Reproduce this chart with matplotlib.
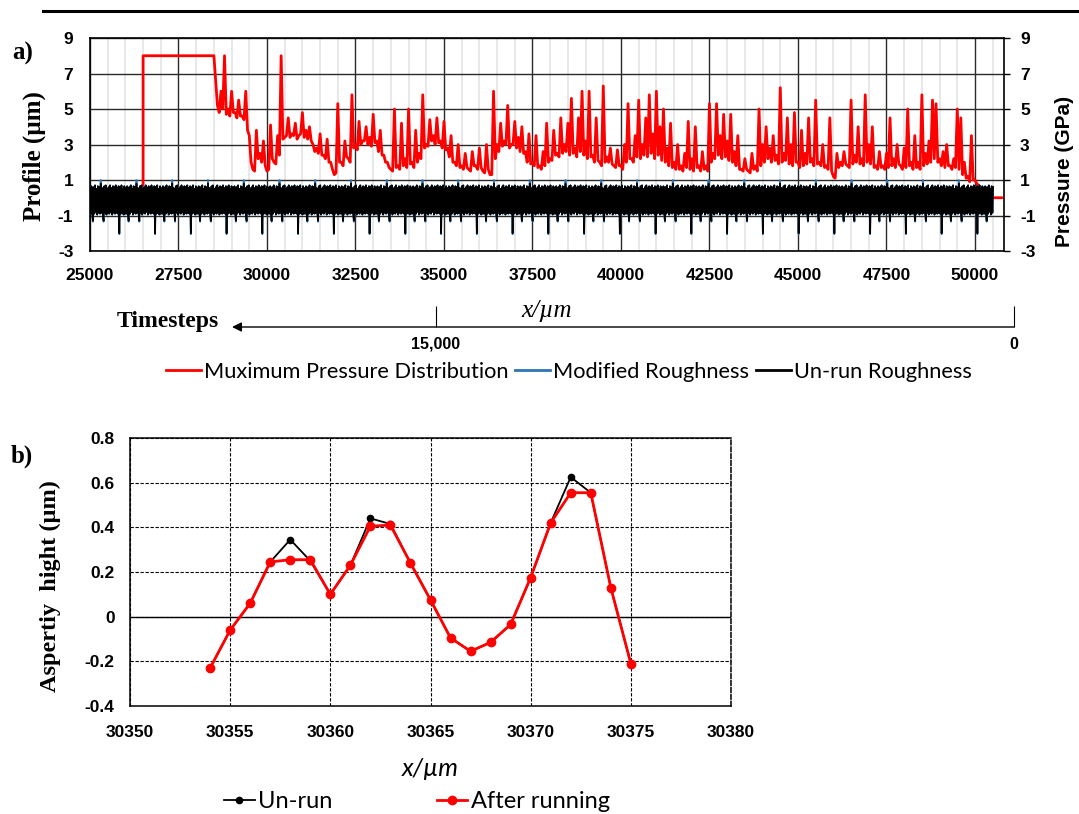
import numpy as np
import matplotlib
matplotlib.use('Agg')
import matplotlib.pyplot as plt
from matplotlib.lines import Line2D

plt.rcParams['font.family'] = ['Lato', 'DejaVu Sans']
plt.rcParams['axes.unicode_minus'] = False

# ---------------- panel a data ----------------
# pressure box at the start of the run (x in um, GPa)
pressure_start_x = [26500, 26500, 28500]
pressure_start_y = [0.7, 8.0, 8.0]
# maximum pressure: peaks read every 100 um from 28600 um,
# and the base level read half way between them
pressure_x0 = 28600
pressure_step = 100
pressure_peak = [
    5.2, 6.0, 8.0, 5.0, 6.0, 4.8, 5.5, 4.6, 6.0, 3.5,
    1.6, 3.8, 2.5, 3.2, 1.5, 4.1, 2.0, 3.5, 8.0, 3.4,
    4.5, 3.6, 4.2, 3.5, 4.8, 3.8, 4.0, 3.0, 2.8, 3.6,
    2.4, 3.3, 2.0, 1.3, 5.3, 2.0, 3.2, 2.2, 5.8, 3.0,
    4.3, 3.2, 4.0, 3.4, 4.7, 3.2, 3.8, 2.4, 2.0, 1.6,
    5.0, 1.8, 4.2, 2.2, 5.0, 2.0, 3.8, 2.5, 5.8, 3.0,
    4.4, 3.5, 4.5, 3.2, 4.3, 2.8, 3.5, 2.0, 3.0, 1.8,
    2.5, 1.6, 2.6, 1.8, 2.8, 1.5, 3.0, 1.3, 6.0, 3.0,
    4.2, 3.2, 5.2, 3.0, 4.3, 3.4, 4.0, 2.6, 3.6, 2.0,
    3.5, 1.8, 2.6, 4.2, 2.2, 3.8, 2.5, 4.5, 3.0, 4.2,
    5.6, 2.8, 4.5, 6.0, 3.2, 6.0, 2.4, 4.5, 2.0, 6.3,
    2.3, 2.8, 1.8, 2.7, 1.8, 3.0, 5.3, 2.2, 3.5, 5.5,
    3.0, 4.5, 5.8, 3.6, 6.0, 4.0, 5.0, 2.8, 4.2, 2.0,
    3.0, 1.8, 2.5, 4.3, 2.2, 4.0, 1.8, 2.6, 1.8, 5.3,
    2.5, 5.3, 3.5, 4.7, 3.2, 4.7, 2.6, 3.5, 1.6, 2.2,
    1.5, 2.5, 1.8, 5.0, 3.0, 4.0, 2.8, 3.5, 2.4, 6.2,
    2.5, 4.5, 3.0, 4.8, 2.0, 3.8, 2.5, 4.5, 2.2, 5.5,
    2.0, 3.0, 1.8, 4.5, 1.2, 2.5, 2.0, 2.6, 1.8, 5.5,
    2.4, 4.0, 2.2, 5.8, 3.0, 4.0, 1.8, 2.6, 1.8, 2.5,
    4.5, 2.2, 3.0, 1.8, 2.8, 5.0, 2.0, 3.5, 2.0, 5.8,
    2.5, 3.2, 5.5, 5.3, 2.2, 2.6, 3.0, 1.8, 2.2, 5.0,
    4.5, 2.0, 1.2, 3.5, 1.0, 0.7, 0.5, 0.0, 0.0, 0.0,
    0.0, 0.0,
]
pressure_base = [
    4.8, 5.0, 4.7, 4.6, 4.8, 4.5, 4.6, 4.4, 3.8, 2.0,
    1.5, 2.2, 2.0, 1.8, 1.6, 2.2, 1.9, 2.4, 3.3, 3.5,
    3.4, 3.5, 3.3, 3.6, 3.4, 3.3, 3.2, 2.6, 2.5, 2.4,
    2.2, 2.0, 1.6, 1.4, 2.0, 1.8, 2.3, 2.0, 2.8, 2.7,
    3.0, 3.2, 3.0, 2.9, 3.1, 2.6, 2.4, 2.0, 1.7, 1.5,
    1.7, 1.6, 1.8, 1.7, 1.9, 1.7, 2.0, 2.2, 2.8, 2.9,
    3.2, 3.0, 3.1, 2.8, 2.7, 2.3, 2.0, 1.8, 1.7, 1.6,
    1.7, 1.5, 1.8, 1.6, 1.7, 1.4, 1.6, 1.3, 2.2, 2.6,
    2.9, 3.0, 2.8, 3.0, 2.8, 2.6, 2.5, 2.0, 1.9, 1.8,
    1.7, 1.6, 1.8, 2.0, 2.1, 2.4, 2.3, 2.5, 2.6, 2.4,
    2.5, 2.3, 2.6, 2.4, 2.2, 2.3, 2.0, 2.1, 1.8, 2.0,
    2.0, 1.9, 1.7, 1.8, 1.6, 2.0, 2.2, 2.0, 2.3, 2.2,
    2.4, 2.3, 2.5, 2.2, 2.4, 2.1, 2.0, 1.8, 1.7, 1.6,
    1.6, 1.5, 1.7, 1.6, 1.5, 1.7, 1.5, 1.6, 1.5, 2.0,
    2.2, 2.4, 2.2, 2.3, 2.1, 2.0, 1.8, 1.6, 1.5, 1.6,
    1.4, 1.6, 1.5, 1.8, 2.0, 2.2, 2.0, 2.1, 1.9, 2.0,
    2.1, 1.9, 1.8, 2.0, 1.7, 1.8, 1.9, 2.0, 1.8, 1.9,
    1.8, 1.7, 1.6, 1.5, 1.1, 1.7, 1.8, 1.9, 1.7, 1.9,
    2.0, 1.9, 1.8, 2.0, 1.9, 1.7, 1.6, 1.7, 1.6, 1.7,
    1.8, 1.7, 1.9, 1.6, 1.7, 1.8, 1.6, 1.7, 1.6, 1.8,
    1.9, 2.0, 2.2, 2.0, 1.8, 1.7, 1.8, 1.6, 1.7, 1.6,
    1.3, 1.1, 0.9, 1.0, 0.8, 0.6, 0.2, 0.0, 0.0, 0.0,
    0.0, 0.0,
]

# roughness: one measured period (~1010 um) that repeats along the track
rough_x0 = 25000
rough_x_end = 50530
rough_period = 1010
rough_unrun = [
    0.55, -0.90, 0.65, -0.85, -1.30, 0.60, -0.90, 0.70, -0.80, 0.50,
    -0.95, 0.65, -0.85, 0.60, -0.90, 0.80, -0.85, 0.55, -0.90, -1.30,
    0.65, -0.85, 0.70, -0.95, 0.50, -0.85, 0.60, -0.90, 0.70, -0.80,
    0.55, -0.95, 0.65, -0.85, 0.60, -0.90, 0.70, -0.85, 0.55, -0.90,
    0.65, -2.00, 0.60, -0.90, 0.70, -0.85, 0.50, -0.95, 0.65, -0.90,
]
rough_modified = [
    0.55, -0.90, 0.65, -0.85, -1.35, 0.60, -0.90, 0.70, -0.80, 0.50,
    -0.95, 0.65, -0.85, 0.60, -0.90, 1.00, -0.85, 0.55, -0.90, -1.35,
    0.65, -0.85, 0.70, -0.95, 0.50, -0.85, 0.60, -0.90, 0.70, -0.80,
    0.55, -0.95, 0.65, -0.85, 0.60, -0.90, 0.70, -0.85, 0.55, -0.90,
    0.65, -2.05, 0.60, -0.90, 0.70, -0.85, 0.50, -0.95, 0.65, -0.90,
]

a_xticks = [25000, 27500, 30000, 32500, 35000, 37500, 40000, 42500, 45000, 47500, 50000]
a_yticks = [-3, -1, 1, 3, 5, 7, 9]

timestep_ticks = [15000, 0]
timestep_labels = ['15,000', '0']

# ---------------- panel b data ----------------
b_x = [30354, 30355, 30356, 30357, 30358, 30359, 30360, 30361, 30362, 30363, 30364,
       30365, 30366, 30367, 30368, 30369, 30370, 30371, 30372, 30373, 30374, 30375]
b_unrun = [-0.23, -0.06, 0.06, 0.245, 0.345, 0.25, 0.10, 0.23, 0.44, 0.415, 0.24,
           0.075, -0.095, -0.155, -0.115, -0.035, 0.175, 0.42, 0.625, 0.555, 0.13, -0.21]
b_after = [-0.23, -0.06, 0.06, 0.245, 0.255, 0.255, 0.10, 0.23, 0.405, 0.41, 0.24,
           0.075, -0.095, -0.155, -0.115, -0.035, 0.175, 0.42, 0.555, 0.555, 0.13, -0.21]
b_xticks = [30350, 30355, 30360, 30365, 30370, 30375, 30380]
b_yticks = [-0.4, -0.2, 0, 0.2, 0.4, 0.6, 0.8]
b_yticklabels = ['-0.4', '-0.2', '0', '0.2', '0.4', '0.6', '0.8']

W, H = 1079, 814
fig = plt.figure(figsize=(W / 100, H / 100), dpi=100)

serif = ['Liberation Serif', 'DejaVu Serif']
tickfont = ['Liberation Sans', 'DejaVu Sans']


def bold_ticks(ax, size=12.5):
    for lab in ax.get_xticklabels() + ax.get_yticklabels():
        lab.set_fontfamily(tickfont)
        lab.set_fontweight('bold')
        lab.set_fontsize(size)


# top rule
fig.add_artist(Line2D([43 / W, 1.0], [1 - 10.7 / H] * 2, color='black', lw=2.2))

# ---------------- panel a ----------------
ax_a = fig.add_axes([90 / W, 1 - 251 / H, 914 / W, 213 / H])

peak_x = pressure_x0 + pressure_step * np.arange(len(pressure_peak))
p_x = np.column_stack([peak_x, peak_x + pressure_step / 2]).ravel()
p_y = np.column_stack([pressure_peak, pressure_base]).ravel()
p_x = np.concatenate([pressure_start_x, p_x])
p_y = np.concatenate([pressure_start_y, p_y])
ax_a.plot(p_x, p_y, color='#ff0000', lw=2.0, zorder=2)

step = rough_period / len(rough_unrun)
n = int((rough_x_end - rough_x0) / step) + 1
r_x = rough_x0 + step * np.arange(n)
ax_a.plot(r_x, np.resize(rough_modified, n), color='#2e75b6', lw=1.3, zorder=3)
ax_a.plot(r_x, np.resize(rough_unrun, n), color='black', lw=1.2, zorder=4)

ax_a.set_xlim(25000, 50820)
ax_a.set_ylim(-3, 9)
ax_a.set_xticks(a_xticks)
ax_a.set_yticks(a_yticks)
ax_a.set_xticks(np.arange(25500, 50800, 500), minor=True)
ax_a.set_axisbelow(True)
ax_a.grid(which='major', color='#2a2a2a', lw=1.0)
ax_a.grid(which='minor', axis='x', color='#e6e6e6', lw=1.3)
ax_a.tick_params(which='both', length=0)
ax_a.tick_params(axis='y', pad=12)
ax_a.tick_params(axis='x', pad=12)
for s in ax_a.spines.values():
    s.set_linewidth(1.2)
bold_ticks(ax_a)

ax_r = ax_a.twinx()
ax_r.set_ylim(-3, 9)
ax_r.set_yticks(a_yticks)
ax_r.tick_params(axis='y', length=4.5, width=1.0, pad=7, direction='out')
for s in ax_r.spines.values():
    s.set_visible(False)
bold_ticks(ax_r)

fig.text(23 / W, 1 - 53 / H, 'a)', family=serif, weight='bold', fontsize=18, ha='center', va='center')
fig.text(34 / W, 1 - 156 / H, 'Profile (µm)', family=serif, weight='bold', fontsize=18,
         rotation=90, ha='center', va='center')
fig.text(1065 / W, 1 - 171 / H, 'Pressure (GPa)', family=tickfont, weight='bold', fontsize=15,
         rotation=90, ha='center', va='center')
fig.text(547 / W, 1 - 311 / H, 'x/µm', family=serif, style='italic', fontsize=18,
         ha='center', va='center')

# timestep axis below panel a
ax_t = fig.add_axes([232 / W, 1 - 327 / H, (1014 - 232) / W, 1e-4])
ax_t.set_xlim(15000 + (436 - 232) * 15000 / (1014 - 436), 0)
ax_t.set_xticks(timestep_ticks)
ax_t.set_xticklabels(timestep_labels)
ax_t.set_yticks([])
for s in ax_t.spines.values():
    s.set_visible(False)
ax_t.tick_params(axis='x', direction='in', length=15, width=0.8, pad=7)
bold_ticks(ax_t, 11.5)
ax_t.annotate('', xy=(0, 0), xytext=(1, 0), xycoords='axes fraction',
              arrowprops=dict(arrowstyle='-|>', color='black', lw=1.0,
                              mutation_scale=14, shrinkA=0, shrinkB=0))
fig.text(168 / W, 1 - 321 / H, 'Timesteps', family=serif, weight='bold', fontsize=17,
         ha='center', va='center')

handles_a = [Line2D([], [], color='#ff0000', lw=2),
             Line2D([], [], color='#2e75b6', lw=2),
             Line2D([], [], color='black', lw=2)]
fig.legend(handles_a, ['Muximum Pressure Distribution', 'Modified Roughness', 'Un-run Roughness'],
           loc='center', bbox_to_anchor=(569 / W, 1 - 372 / H), ncol=3, frameon=False,
           fontsize=15.7, handlelength=1.6, handletextpad=0.15, columnspacing=0.3)

# ---------------- panel b ----------------
ax_b = fig.add_axes([130 / W, 1 - 706 / H, 601 / W, 268 / H])
ax_b.plot(b_x, b_unrun, '-o', color='black', lw=1.3, ms=4.5, zorder=3)
ax_b.plot(b_x, b_after, '-o', color='#ff0000', lw=2.0, ms=6, zorder=4)
ax_b.set_xlim(30350, 30380)
ax_b.set_ylim(-0.4, 0.8)
ax_b.set_xticks(b_xticks)
ax_b.set_yticks(b_yticks)
ax_b.set_yticklabels(b_yticklabels)
ax_b.set_axisbelow(True)
ax_b.grid(color='black', lw=0.8, linestyle=(0, (3, 1.5)))
ax_b.axhline(0, color='black', lw=1.0, zorder=1)
ax_b.tick_params(length=0)
ax_b.tick_params(axis='y', pad=11)
ax_b.tick_params(axis='x', pad=14)
ax_b.spines['right'].set_linestyle((0, (3, 1.5)))
for s in ax_b.spines.values():
    s.set_linewidth(1.1)
bold_ticks(ax_b)

fig.text(22 / W, 1 - 456 / H, 'b)', family=serif, weight='bold', fontsize=18, ha='center', va='center')
fig.text(50 / W, 1 - 586 / H, 'Aspertiy  hight (µm)', family=serif, weight='bold', fontsize=17.5,
         rotation=90, ha='center', va='center')
fig.text(430 / W, 1 - 768 / H, 'x/µm', style='italic', fontsize=18, ha='center', va='center')

handles_b = [Line2D([], [], color='black', lw=1.3, marker='o', ms=4.5),
             Line2D([], [], color='#ff0000', lw=2.0, marker='o', ms=6)]
fig.legend(handles_b, ['Un-run', 'After running'], loc='center',
           bbox_to_anchor=(417 / W, 1 - 802 / H), ncol=2, frameon=False,
           fontsize=17, handlelength=1.3, handletextpad=0.15, columnspacing=4.4)

fig.savefig('out.png', dpi=100)
